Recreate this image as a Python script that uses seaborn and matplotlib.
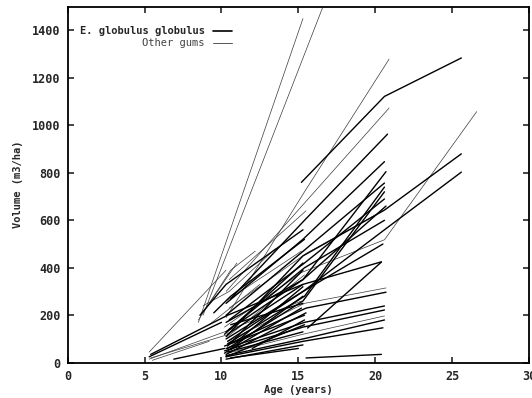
import matplotlib
matplotlib.use("Agg")
import matplotlib.pyplot as plt
import seaborn as sns
import pandas as pd

# ---- data: one trajectory per plot (species, ages, volumes) ----
G = "E. globulus globulus"
O = "Other gums"

traj_species = [
    O, G, G, O, G, O, O, O, O, O, G, O, G,
    G, O, O, G, G, G, G, G, G, O, G, G, G, G, G,
    O, G, G, G, O, G, G, G, G, G, G, G, O, G, G, O, G, G, O, G, G, G,
    G, O, G, G, O, G, G, O,
]
traj_ages = [
    [5.3, 10.3], [5.4, 10.4, 15.3], [5.3, 10.0], [5.3, 10.2, 15.2], [6.9, 10.2],
    [5.5, 9.2], [8.5, 15.3], [8.8, 16.6, 21.0], [8.5, 10.6, 12.2], [9.0, 11.0],
    [8.6, 10.3, 15.3], [8.8, 10.5, 13.5], [9.5, 10.6, 15.4],
    [15.2, 20.6, 25.6], [10.3, 15.4, 20.9], [10.3, 15.5, 20.9], [10.6, 15.4, 20.8],
    [10.3, 15.3, 20.6], [10.5, 15.3, 20.7], [10.3, 15.5, 20.6], [10.4, 15.4, 20.6],
    [10.5, 15.4, 20.6], [10.2, 15.2, 20.6, 26.6], [10.3, 15.3, 20.6, 25.6],
    [10.4, 15.3, 20.6, 25.6], [10.3, 15.3, 20.5], [10.4, 15.3, 20.4], [15.6, 20.4],
    [10.4, 15.4, 20.7], [10.5, 15.5, 20.7], [10.3, 15.4, 20.6], [10.2, 15.3, 20.6],
    [10.4, 15.3, 20.6], [10.3, 15.3, 20.6], [10.3, 15.3, 20.5], [15.5, 20.4],
    [10.6, 15.0], [10.3, 15.3], [10.4, 15.3], [10.2, 15.4], [10.3, 15.2],
    [10.6, 15.3], [10.3, 15.5], [10.5, 15.5], [11.0, 15.3], [10.3, 15.4, 20.6],
    [10.5, 15.5, 20.5], [12.0, 15.4], [10.4, 15.3, 20.6], [10.3, 15.3, 20.7],
    [10.2, 15.3], [10.4, 15.4], [10.6, 15.2], [10.3, 15.4], [9.2, 12.5],
    [10.4, 15.3], [10.2, 15.3], [5.4, 10.5],
]
traj_volumes = [
    [45, 390], [35, 200, 330], [25, 170], [15, 130, 260], [15, 60],
    [10, 90], [170, 1450], [200, 1500, 2100], [180, 390, 470], [230, 420],
    [200, 330, 560], [240, 300, 480], [210, 280, 520],
    [760, 1122, 1284], [190, 720, 1279], [300, 680, 1073], [270, 600, 963],
    [250, 520, 847], [140, 350, 805], [200, 480, 757], [80, 280, 740],
    [180, 420, 690], [150, 380, 518, 1058], [110, 450, 643, 880],
    [90, 300, 560, 803], [100, 300, 500], [120, 330, 425], [146, 424],
    [90, 250, 315], [80, 230, 297], [60, 170, 239], [50, 150, 222],
    [40, 120, 197], [30, 100, 180], [25, 90, 147], [20, 35],
    [20, 60], [15, 75], [45, 130], [70, 200], [260, 470],
    [160, 250], [35, 210], [350, 640], [90, 320], [130, 400, 600],
    [230, 460, 640], [60, 180], [60, 260, 720], [170, 350, 660],
    [40, 280], [110, 370], [55, 230], [25, 160], [160, 330],
    [70, 390], [120, 420], [20, 120],
]

x_ticks = [0, 5, 10, 15, 20, 25, 30]
y_ticks = [0, 200, 400, 600, 800, 1000, 1200, 1400]

rows = []
for pid, (sp, ages, vols) in enumerate(zip(traj_species, traj_ages, traj_volumes)):
    for a, v in zip(ages, vols):
        rows.append({"plot": pid, "species": sp, "age": a, "volume": v})
df = pd.DataFrame(rows)

sns.set_style("ticks")
plt.rcParams["font.family"] = ["DejaVu Sans Mono"]

fig = plt.figure(figsize=(5.32, 3.98), dpi=100)
ax = fig.add_axes([67.7 / 532, 1 - 362.7 / 398, (529 - 67.7) / 532, (362.7 - 6.7) / 398])

sns.lineplot(
    data=df, x="age", y="volume", units="plot", estimator=None, sort=False,
    hue="species", palette={G: "#000000", O: "#3a3a3a"},
    size="species", sizes={G: 1.0, O: 0.5}, legend=False, ax=ax,
)

ax.set_xlim(0, 30)
ax.set_ylim(0, 1500)
ax.set_xticks(x_ticks)
ax.set_yticks(y_ticks)
ax.tick_params(direction="in", length=4, width=1.2, top=True, right=True,
               labelsize=8.5, pad=5)
for lab in ax.get_xticklabels() + ax.get_yticklabels():
    lab.set_fontweight("bold")
for s in ax.spines.values():
    s.set_linewidth(1.3)
    s.set_color("black")
ax.set_xlabel("Age (years)", fontsize=7.5, fontweight="bold", labelpad=2)
ax.set_ylabel("Volume (m3/ha)", fontsize=7.5, fontweight="bold", labelpad=7)

# gnuplot-style key: right-justified text followed by line sample
tr = ax.transAxes
def px2ax(x, y):
    return (x - 67.7) / (529 - 67.7), (362.7 - y) / (362.7 - 6.7)
tx, ty1 = px2ax(205, 31)
_, ty2 = px2ax(205, 43)
lx0, _ = px2ax(213, 0)
lx1, _ = px2ax(232, 0)
ax.text(tx, ty1, G, transform=tr, ha="right", va="center", fontsize=7.5,
        fontweight="bold")
ax.text(tx, ty2, O, transform=tr, ha="right", va="center", fontsize=7.5,
        color="#444444")
ax.plot([lx0, lx1], [ty1, ty1], transform=tr, color="black", lw=1.2)
ax.plot([lx0, lx1], [ty2, ty2], transform=tr, color="#555555", lw=0.7)

fig.savefig("out.png", dpi=100)
